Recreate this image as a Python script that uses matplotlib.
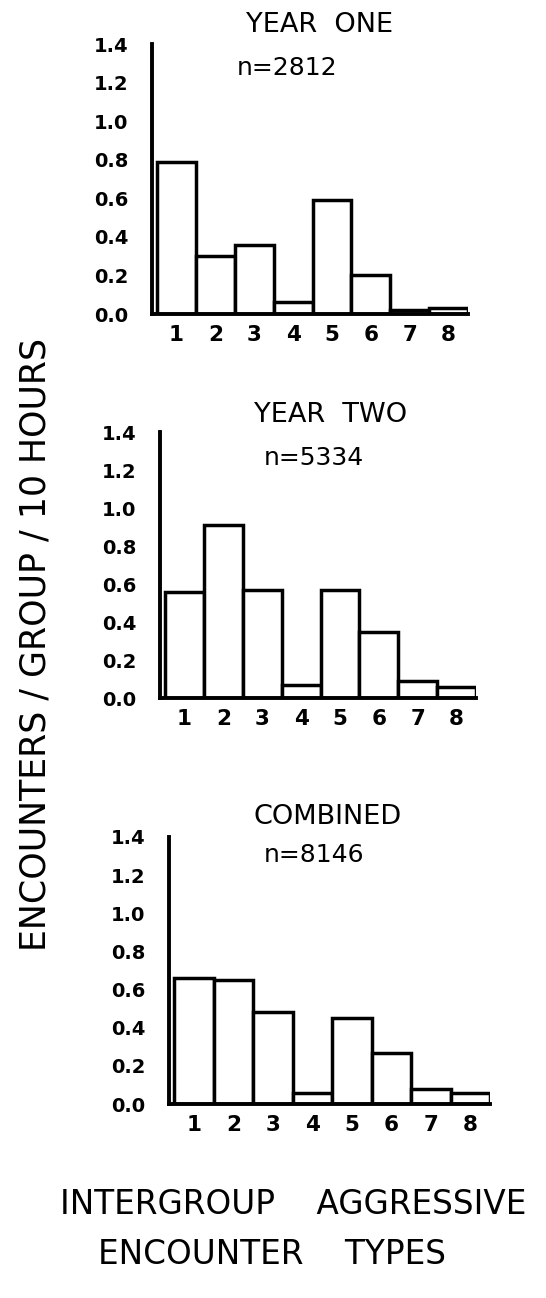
import numpy as np
import matplotlib.pyplot as plt

# encounter types and rates per panel
types = [1, 2, 3, 4, 5, 6, 7, 8]
year_one = [0.79, 0.30, 0.36, 0.06, 0.59, 0.20, 0.02, 0.03]
year_two = [0.56, 0.91, 0.57, 0.07, 0.57, 0.35, 0.09, 0.06]
combined = [0.66, 0.65, 0.48, 0.06, 0.45, 0.27, 0.08, 0.06]
titles = ['YEAR  ONE', 'YEAR  TWO', 'COMBINED']
n_labels = ['n=2812', 'n=5334', 'n=8146']
yticks = [0.0, 0.2, 0.4, 0.6, 0.8, 1.0, 1.2, 1.4]

W, H = 546, 1298
plt.rcParams['font.family'] = ['DejaVu Sans']
fig = plt.figure(figsize=(W / 100, H / 100), dpi=100)

# panel boxes in pixels: left, right, y of 0.0, y of 1.4
boxes = [(152, 468, 314, 44), (160, 476, 698, 432), (169, 490, 1104, 837)]
# title and n label positions in pixels
title_pos = [(320, 25), (331, 415), (328, 817)]
n_pos = [(287, 68), (314, 458), (314, 855)]

for data, box, title, nlab, tp, npos in zip([year_one, year_two, combined], boxes,
                                           titles, n_labels, title_pos, n_pos):
    left, right, y0, y1 = box
    ax = fig.add_axes([left / W, (H - y0) / H, (right - left) / W, (y0 - y1) / H])
    ax.bar(types, data, width=1.0, color='white', edgecolor='black', linewidth=2.5)
    ax.set_xlim(0.37, 8.5)
    ax.set_ylim(0, 1.4)
    ax.spines['top'].set_visible(False)
    ax.spines['right'].set_visible(False)
    ax.spines['left'].set_linewidth(2.8)
    ax.spines['bottom'].set_linewidth(2.8)
    ax.set_xticks(types)
    ax.set_xticklabels([str(t) for t in types], fontsize=15.5, fontweight='bold')
    ax.set_yticks(yticks)
    ax.set_yticklabels([f'{v:.1f}' for v in yticks], fontsize=14, fontweight='bold')
    ax.tick_params(axis='x', length=0, pad=8)
    ax.tick_params(axis='y', length=0, pad=17)
    ax.patch.set_alpha(0)
    fig.text(tp[0] / W, 1 - tp[1] / H, title, fontsize=19.5, ha='center', va='center')
    fig.text(npos[0] / W, 1 - npos[1] / H, nlab, fontsize=18, ha='center', va='center')

fig.text(36 / W, 1 - 645 / H, 'ENCOUNTERS / GROUP / 10 HOURS', fontsize=25,
         rotation=90, ha='center', va='center')
fig.text(293 / W, 1 - 1205 / H, 'INTERGROUP    AGGRESSIVE', fontsize=23.5,
         ha='center', va='center')
fig.text(272 / W, 1 - 1255 / H, 'ENCOUNTER    TYPES', fontsize=23.5,
         ha='center', va='center')

fig.savefig('out.png', dpi=100, facecolor='white')
